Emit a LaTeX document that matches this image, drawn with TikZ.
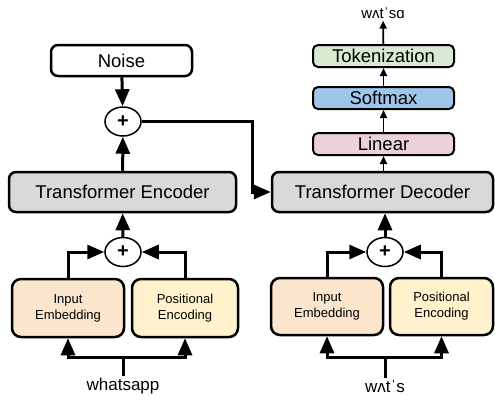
\documentclass[tikz,border=0pt]{standalone}
\usepackage{fontspec}
\setmainfont{Liberation Sans}
\usetikzlibrary{arrows.meta,shapes.geometric}
\definecolor{cgray}{HTML}{D9D9D9}
\definecolor{cpeach}{HTML}{FCE5CD}
\definecolor{cyel}{HTML}{FFF2CC}
\definecolor{cpink}{HTML}{EAD1DC}
\definecolor{cblue}{HTML}{9FC5E8}
\definecolor{cgreen}{HTML}{D9EAD3}
\tikzset{
  box/.style={draw, line width=2.5pt, rounded corners=7pt, inner sep=0pt, font=\fontsize{18.5}{20}\selectfont},
  smallbox/.style={box, rounded corners=9pt, font=\fontsize{13}{16}\selectfont, align=center},
  slim/.style={box, line width=2pt, rounded corners=5pt, minimum width=141pt, minimum height=22pt},
  plus/.style={draw, ellipse, line width=1.5pt, fill=white, minimum width=36pt, minimum height=29pt, inner sep=0pt, font=\fontsize{20}{20}\selectfont\bfseries},
  arr/.style={line width=3pt, -{Triangle[length=17pt,width=14pt]}},
  ln/.style={line width=3pt},
  arrs/.style={line width=1.8pt, -{Triangle[length=8pt,width=7pt]}},
  lbl/.style={inner sep=2pt, font=\fontsize{17}{18}\selectfont}
}
\begin{document}
\begin{tikzpicture}[x=1pt,y=-1pt]
\useasboundingbox (0,0) rectangle (495,399);
% left side
\node[box, fill=white, minimum width=141pt, minimum height=31pt] (noise) at (121.5,60.5) {Noise};
\node[plus] (p1) at (123,121.5) {+};
\node[box, fill=cgray, minimum width=227pt, minimum height=40pt] (enc) at (122.5,192) {Transformer Encoder};
\node[plus] (p2) at (123,252) {+};
\node[smallbox, fill=cpeach, minimum width=112pt, minimum height=58pt] (ie1) at (68,308) {Input\\Embedding};
\node[smallbox, fill=cyel, minimum width=106pt, minimum height=58pt] (pe1) at (185,308) {Positional\\Encoding};
\node[lbl] (in1) at (123,386) {whatsapp};
\coordinate (j1) at (123,357);
% right side
\node[box, fill=cgray, minimum width=221pt, minimum height=40pt] (dec) at (382.5,192) {Transformer Decoder};
\node[slim, fill=cpink] (lin) at (383.5,144) {Linear};
\node[slim, fill=cblue] (soft) at (383.5,98) {Softmax};
\node[slim, fill=cgreen] (tok) at (383.5,56) {Tokenization};
\node[lbl, font=\fontsize{15}{16}\selectfont] (out) at (383,13) {wʌtˈsɑ};
\node[plus] (p3) at (385,252) {+};
\node[smallbox, fill=cpeach, minimum width=112pt, minimum height=57pt] (ie2) at (327,306.5) {Input\\Embedding};
\node[smallbox, fill=cyel, minimum width=103pt, minimum height=57pt] (pe2) at (441.5,306.5) {Positional\\Encoding};
\node[lbl] (in2) at (385,386) {wʌtˈs};
\coordinate (j2) at (385,357);
\coordinate (k) at (252,192);
% connectors left
\draw[arr] (noise) -- (p1);
\draw[arr] (enc) -- (p1);
\draw[arr] (p2) -- (enc);
\draw[arr] (ie1.north) |- (p2.west);
\draw[arr] (pe1.north) |- (p2.east);
\draw[ln] (in1.north) -- (j1);
\draw[arr] (j1) -| (ie1.south);
\draw[arr] (j1) -| (pe1.south);
\draw[arr] (p1.east) -| (k) -- (dec.west);
% connectors right
\draw[arr] (p3) -- (p3 |- dec.south);
\draw[arr] (ie2.north) |- (p3.west);
\draw[arr] (pe2.north) |- (p3.east);
\draw[ln] (in2.north) -- (j2);
\draw[arr] (j2) -| (ie2.south);
\draw[arr] (j2) -| (pe2.south);
\draw[arrs] (dec.north -| lin) -- (lin.south);
\draw[arrs] (lin) -- (soft);
\draw[arrs] (soft) -- (tok);
\draw[arrs] (tok) -- (out);
\end{tikzpicture}
\end{document}
